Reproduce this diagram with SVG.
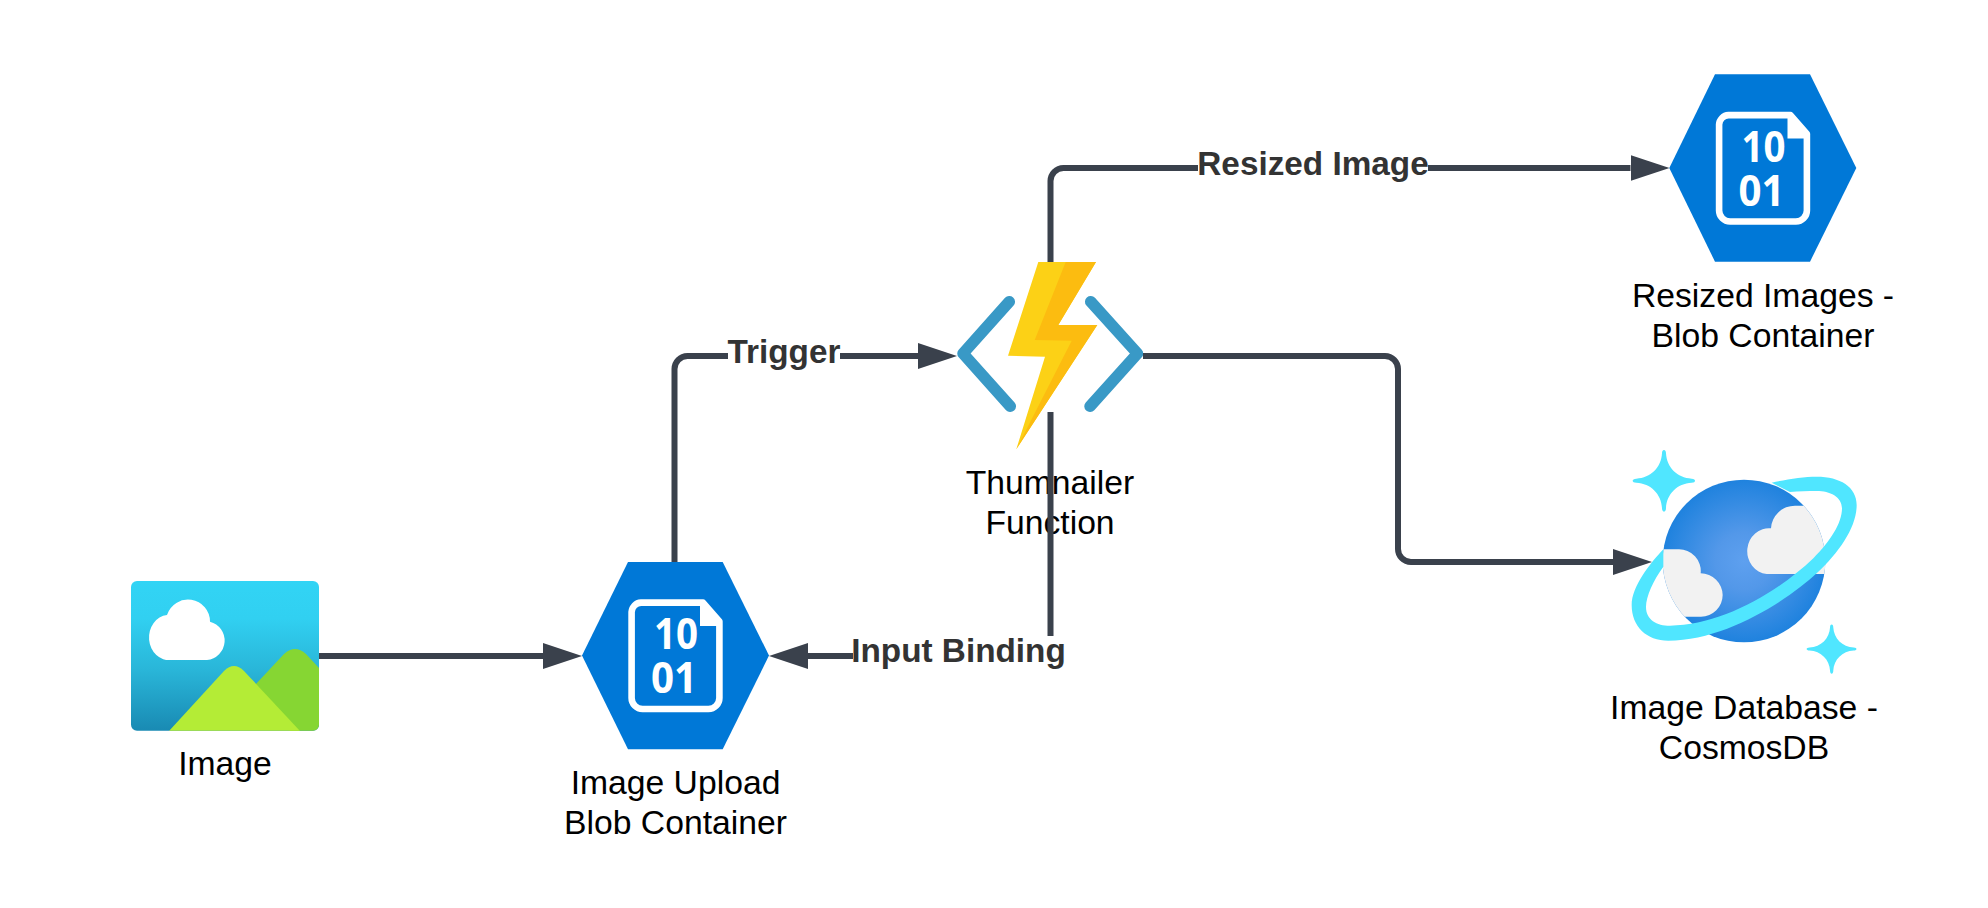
<svg xmlns="http://www.w3.org/2000/svg" xmlns:xlink="http://www.w3.org/1999/xlink" width="1988" height="908" viewBox="0 0 1988 908">
<style>
text{font-family:"Liberation Sans",Arial,sans-serif;font-size:33.7px;text-anchor:middle}
.cap{fill:#000}
.lab{fill:#333;font-weight:700;font-size:33.3px}
.mask{fill:#fff}
.conn{fill:none;stroke:#3a414c;stroke-width:6;marker-end:url(#arrow)}
.hex{fill:#0078d7}
.doc{fill:none;stroke:#fff;stroke-width:6.6;stroke-linejoin:round}
.fold{fill:#fff}
.bits{fill:#fff;font-family:"Open Sans","Noto Sans",sans-serif;font-size:43px;font-weight:700}
.chev{fill:none;stroke:#3999c6;stroke-width:11.5;stroke-linecap:round;stroke-linejoin:round}
.spark{fill:#50e6ff}
.puff{fill:#f2f2f2}
</style>
<defs>
<marker id="arrow" markerUnits="userSpaceOnUse" markerWidth="39" markerHeight="26" viewBox="0 0 39 26" refX="0" refY="13" orient="auto">
<polygon points="0,0 39,13 0,26" fill="#3a414c"/>
</marker>
<linearGradient id="sky" x1="0" y1="0" x2="0" y2="1">
<stop offset="0" stop-color="#32d4f5"/>
<stop offset=".25" stop-color="#31d0f1"/>
<stop offset=".6" stop-color="#29b5d8"/>
<stop offset="1" stop-color="#198ab3"/>
</linearGradient>
<radialGradient id="globe" gradientUnits="userSpaceOnUse" cx="432" cy="393" r="244">
<stop offset="0" stop-color="#5ea0ef"/>
<stop offset=".35" stop-color="#5398e9"/>
<stop offset="1" stop-color="#1f82de"/>
</radialGradient>
<clipPath id="globeClip"><circle cx="432" cy="393" r="244"/></clipPath>
<clipPath id="picClip"><rect x="131" y="581" width="188" height="149.7" rx="6"/></clipPath>
<path id="star" d="M192 60C196 60 198 64 198 70C200 112 232 144 275 146C282 146 285 149 285 152C285 155 282 158 275 158C232 160 200 192 198 234C198 240 196 245 192 245C188 245 186 240 186 234C184 192 152 160 109 158C102 158 98 155 98 152C98 149 102 146 109 146C152 144 184 112 186 70C186 64 188 60 192 60Z"/>
</defs>
<rect width="1988" height="908" fill="#fff"/>

<g id="node-image">
<rect x="131" y="581" width="188" height="149.7" rx="6" fill="url(#sky)"/>
<path d="M171 660A20 22.6 0 0 1 167 615A22 22 0 0 1 210 621.7A19.5 19.5 0 0 1 207 660Z" fill="#fff"/>
<g clip-path="url(#picClip)">
<path d="M255 685L284 654Q295 644 306 654L319 668V731H290Z" fill="#86d633"/>
<path d="M169 731L224 671Q234 661 244 671L300 731Z" fill="#b4ec36"/>
</g>
<text class="cap" x="225" y="775">Image</text>
</g>

<g id="node-upload">
<polygon class="hex" points="582,655.5 628,562 722.7,562 769,655.5 722.7,749.3 628,749.3"/>
<path class="doc" d="M641 602.6H703L719.4 621.5V698A11 11 0 0 1 708.4 709H642.6A11 11 0 0 1 631.6 698V612A10 10 0 0 1 641 602.6Z"/>
<polygon class="fold" points="700,604 703,604 720,622 720,626 700,626"/>
<text class="bits" x="676" y="649.3" textLength="44" lengthAdjust="spacingAndGlyphs">10</text>
<text class="bits" x="674" y="693.3" textLength="46" lengthAdjust="spacingAndGlyphs">01</text>
<text class="cap" x="675.5" y="794">Image Upload</text>
<text class="cap" x="675.5" y="834">Blob Container</text>
</g>

<g id="node-function">
<polyline class="chev" points="1009.3,301.7 963,353.5 1010.3,406.3"/>
<polyline class="chev" points="1090.7,301.7 1137.5,353.5 1090,406.3"/>
<polygon points="1038.3,262 1096,262 1058.3,325 1097.3,325 1016.3,449.3 1045,356.7 1008,355.7" fill="#fcd116"/>
<polygon points="1065.7,262 1096,262 1058.3,325 1097.3,325 1016.3,449.3 1071.7,340.7 1034.7,340" fill="#fcbc10"/>
<text class="cap" x="1050" y="493.5">Thumnailer</text>
<text class="cap" x="1050" y="533.5">Function</text>
</g>

<g id="node-resized">
<polygon class="hex" points="1669.3,168 1715,74.3 1810,74.3 1856.3,168 1810,261.7 1715,261.7"/>
<path class="doc" d="M1728.5 115.1H1790.5L1806.9 134V210.5A11 11 0 0 1 1795.9 221.5H1730.1A11 11 0 0 1 1719.1 210.5V124.5A10 10 0 0 1 1728.5 115.1Z"/>
<polygon class="fold" points="1787.5,116.5 1790.5,116.5 1807.5,134.5 1807.5,138.5 1787.5,138.5"/>
<text class="bits" x="1763.5" y="161.8" textLength="44" lengthAdjust="spacingAndGlyphs">10</text>
<text class="bits" x="1761.5" y="205.8" textLength="46" lengthAdjust="spacingAndGlyphs">01</text>
<text class="cap" x="1763" y="306.5">Resized Images -</text>
<text class="cap" x="1763" y="346.5">Blob Container</text>
</g>

<g id="node-cosmos">
<g transform="translate(1600 430) scale(.33333)">
<use href="#star" xlink:href="#star" class="spark"/>
<use href="#star" xlink:href="#star" class="spark" transform="translate(695 657) scale(.8) translate(-192 -152)"/>
<circle cx="432" cy="393" r="244" fill="url(#globe)"/>
<g clip-path="url(#globeClip)">
<path class="puff" d="M500 432A64 68 0 0 1 513 295A72 72 0 0 1 585 227H700V432Z"/>
<path class="puff" d="M150 358H235A65 65 0 0 1 302 430A66 66 0 0 1 368 495A65 65 0 0 1 303 560H150Z"/>
</g>
<path fill="#50e6ff" d="M515 158C560 148 610 140 650 140C720 140 770 170 770 225C770 290 720 365 650 430C570 505 380 632 205 632C140 632 95 590 95 525C95 470 150 400 190 358L190 410C160 450 138 500 138 530C138 570 170 587 210 587C360 587 530 490 640 385C690 335 726 280 726 235C726 200 690 183 650 183C625 183 595 183 570 186Z"/>
</g>
<text class="cap" x="1744" y="718.5">Image Database -</text>
<text class="cap" x="1744" y="758.5">CosmosDB</text>
</g>

<g id="connectors">
<path class="conn" d="M319 656H543"/>
<path class="conn" d="M674.5 562V369A13 13 0 0 1 687.5 356H918"/>
<path class="conn" d="M1050.5 262V181A13 13 0 0 1 1063.5 168H1630.5"/>
<path class="conn" d="M1143 356H1385A13 13 0 0 1 1398 369V549A13 13 0 0 0 1411 562H1613"/>
<path class="conn" d="M1050.5 412V656H808"/>
<g id="connector-labels">
<rect class="mask" x="728" y="336" width="112" height="40"/>
<text class="lab" x="784" y="362.5">Trigger</text>
<rect class="mask" x="1198" y="148" width="230" height="40"/>
<text class="lab" x="1313" y="175">Resized Image</text>
<rect class="mask" x="853" y="636" width="212" height="40"/>
<text class="lab" x="958.5" y="662">Input Binding</text>
</g>
</g>
</svg>
